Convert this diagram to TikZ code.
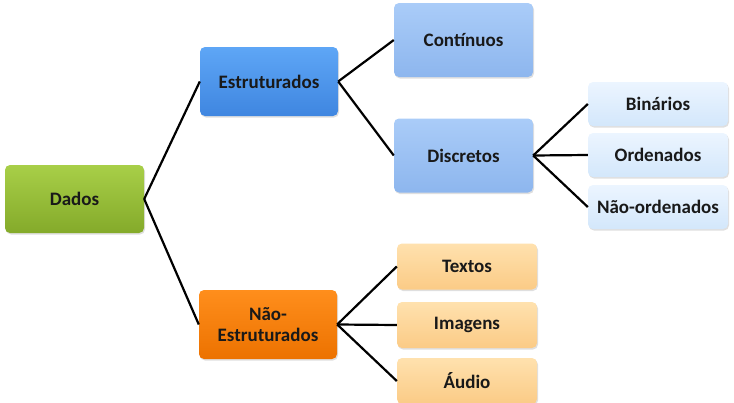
\documentclass[tikz,border=0pt]{standalone}
\usepackage{fontspec}
\setmainfont{Carlito}
\usetikzlibrary{shadows}

\definecolor{greentop}{HTML}{A8CF48}
\definecolor{greenbot}{HTML}{84AA2A}
\definecolor{bluetop}{HTML}{5EA6F6}
\definecolor{bluebot}{HTML}{3F86E0}
\definecolor{ltbluetop}{HTML}{AACCF8}
\definecolor{ltbluebot}{HTML}{8DB6EE}
\definecolor{palebluetop}{HTML}{ECF5FF}
\definecolor{palebluebot}{HTML}{D3E7FB}
\definecolor{orangetop}{HTML}{FF8E1C}
\definecolor{orangebot}{HTML}{EC7200}
\definecolor{peachtop}{HTML}{FFE1AE}
\definecolor{peachbot}{HTML}{FBCB86}

\begin{document}
\begin{tikzpicture}[x=1pt,y=-1pt,
    box/.style={rounded corners=5pt,inner sep=2pt,align=center,
        text=black!90,font=\fontsize{19}{21}\selectfont\bfseries,
        drop shadow={opacity=0.25,shadow xshift=1pt,shadow yshift=-1.5pt}},
    root/.style={box,top color=greentop,bottom color=greenbot,minimum width=139pt,minimum height=68pt},
    main/.style={box,top color=bluetop,bottom color=bluebot,minimum width=138pt,minimum height=69pt},
    mainor/.style={box,top color=orangetop,bottom color=orangebot,minimum width=138pt,minimum height=69pt},
    sub/.style={box,top color=ltbluetop,bottom color=ltbluebot,minimum width=139pt,minimum height=74pt},
    leaf/.style={box,top color=palebluetop,bottom color=palebluebot,minimum width=140pt,minimum height=44pt},
    leafor/.style={box,top color=peachtop,bottom color=peachbot,minimum width=140pt,minimum height=46pt},
    link/.style={line width=2.2pt}]
    \useasboundingbox (0,0) rectangle (734,402);
    \node[root] at (74.5,199) (dados) {Dados};
    \node[main] at (269,81.5) (estr) {Estruturados};
    \node[mainor] at (268,324.5) (nestr) {Não-\\Estruturados};
    \node[sub] at (463.5,40) (cont) {Contínuos};
    \node[sub] at (463.5,155.5) (disc) {Discretos};
    \node[leaf] at (658,104) (bin) {Binários};
    \node[leaf] at (658,155) (ord) {Ordenados};
    \node[leaf] at (658,207) (nord) {Não-ordenados};
    \node[leafor] at (467,266.5) (txt) {Textos};
    \node[leafor] at (467,325) (img) {Imagens};
    \node[leafor] at (467,381) (aud) {Áudio};
    \draw[link] (dados.east) -- (estr.west);
    \draw[link] (dados.east) -- (nestr.west);
    \draw[link] (estr.east) -- (cont.west);
    \draw[link] (estr.east) -- (disc.west);
    \draw[link] (disc.east) -- (bin.west);
    \draw[link] (disc.east) -- (ord.west);
    \draw[link] (disc.east) -- (nord.west);
    \draw[link] (nestr.east) -- (txt.west);
    \draw[link] (nestr.east) -- (img.west);
    \draw[link] (nestr.east) -- (aud.west);
\end{tikzpicture}
\end{document}
